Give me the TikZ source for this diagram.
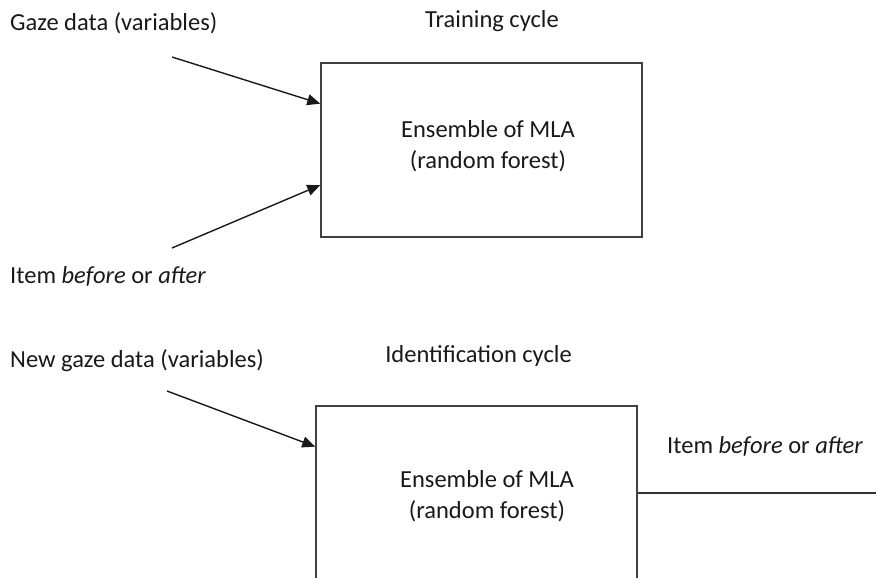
\documentclass[tikz,border=0pt]{standalone}
\usepackage{fontspec}
\setmainfont{Carlito}
\usetikzlibrary{arrows.meta,calc}
\begin{document}
\begin{tikzpicture}[x=1pt,y=-1pt,
  lbl/.style={font=\fontsize{24.5}{30}\selectfont, inner sep=0pt, text=black!90},
  boxtxt/.style={font=\fontsize{24.5}{31}\selectfont, align=center, inner sep=0pt, text=black!90},
  mlabox/.style={draw=black!75, line width=1.5pt, minimum width=321pt, minimum height=174pt, inner sep=0pt},
  arr/.style={draw=black!90, line width=1.4pt, -{Triangle[length=13pt,width=11pt]}},
  plain/.style={draw=black!80, line width=1.5pt}]
\useasboundingbox (0,0) rectangle (876,578);
\clip (0,0) rectangle (876,578);
% training cycle
\node[mlabox] (box1) at (481.5,150) {};
\node[boxtxt] (t1) at ($(box1.center)+(6.5,-4)$) {Ensemble of MLA\\(random forest)};
\node[lbl, anchor=base west] (gaze) at (10,31) {Gaze data (variables)};
\node[lbl, anchor=base] (train) at (492,28) {Training cycle};
\node[lbl, anchor=base west] (item1) at (10,283) {Item \textit{before} or \textit{after}};
\coordinate (s1) at (172,57);
\coordinate (s2) at (172,248);
\draw[arr] (s1) -- ($(box1.north west)!0.236!(box1.south west)$);
\draw[arr] (s2) -- ($(box1.north west)!0.70!(box1.south west)$);
% identification cycle
\node[mlabox] (box2) at (476.5,493) {};
\node[boxtxt] (t2) at ($(box2.center)+(10.5,3)$) {Ensemble of MLA\\(random forest)};
\node[lbl, anchor=base west] (newgaze) at (10,367) {New gaze data (variables)};
\node[lbl, anchor=base] (ident) at (478.5,362) {Identification cycle};
\node[lbl, anchor=base west] (item2) at (667,453) {Item \textit{before} or \textit{after}};
\coordinate (s3) at (167,391);
\draw[arr] (s3) -- ($(box2.north west)!0.236!(box2.south west)$);
\coordinate (outend) at (876,0);
\draw[plain] (box2.east) -- (box2.east -| outend);
\end{tikzpicture}
\end{document}
